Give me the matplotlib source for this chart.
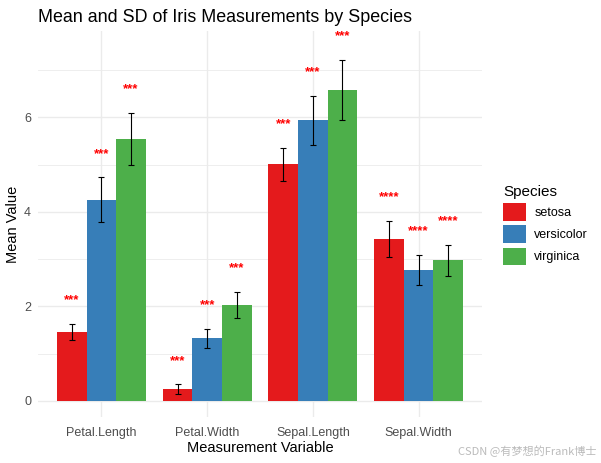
import matplotlib
matplotlib.use("Agg")
import matplotlib.pyplot as plt
import numpy as np
from matplotlib.patches import Patch

plt.rcParams['font.family'] = ['Liberation Sans', 'DejaVu Sans']

variables = ["Petal.Length", "Petal.Width", "Sepal.Length", "Sepal.Width"]
species = ["setosa", "versicolor", "virginica"]
colors = ["#E41A1C", "#377EB8", "#4DAF4A"]
means = {
    "setosa":     [1.462, 0.246, 5.006, 3.428],
    "versicolor": [4.260, 1.326, 5.936, 2.770],
    "virginica":  [5.552, 2.026, 6.588, 2.974],
}
sds = {
    "setosa":     [0.174, 0.105, 0.352, 0.379],
    "versicolor": [0.470, 0.198, 0.516, 0.314],
    "virginica":  [0.552, 0.275, 0.636, 0.322],
}
sig_labels = ["***", "***", "***", "****"]
star_offset = 0.5

W, H = 601, 463
fig = plt.figure(figsize=(W / 100, H / 100), dpi=100)
ax = fig.add_axes([38 / W, 1 - 417 / H, (482 - 38) / W, (417 - 31) / H])

x = np.arange(1, len(variables) + 1)
bw = 0.28
for i, sp in enumerate(species):
    xs = x + (i - 1) * bw
    m = np.array(means[sp]); s = np.array(sds[sp])
    ax.bar(xs, m, width=bw, color=colors[i], zorder=2, label=sp)
    ax.errorbar(xs, m, yerr=s, fmt='none', ecolor='black', elinewidth=0.8,
                capsize=2.5, capthick=0.8, zorder=3)
    for xi, yi, lab in zip(xs, m + s + star_offset, sig_labels):
        ax.text(xi, yi, lab, color='red', ha='center', va='center',
                fontsize=9.5, fontweight='bold', zorder=4)

ax.set_xlim(0.4, 4.6)
ax.set_ylim(-0.34, 7.83)
ax.set_xticks(x)
ax.set_xticklabels(variables)
ax.set_yticks([0, 2, 4, 6])
ax.set_yticks([1, 3, 5, 7], minor=True)
ax.tick_params(axis='both', which='both', length=0, labelsize=9, labelcolor='#4D4D4D')
ax.tick_params(axis='x', pad=7)
ax.tick_params(axis='y', pad=5)
ax.grid(True, which='major', color='#EBEBEB', linewidth=1.0, zorder=0)
ax.grid(True, which='minor', axis='y', color='#EBEBEB', linewidth=0.6, zorder=0)
ax.set_axisbelow(True)
for sp_ in ax.spines.values():
    sp_.set_visible(False)

ax.set_xlabel("Measurement Variable", fontsize=10.5, labelpad=2)
ax.set_ylabel("Mean Value", fontsize=10.5, labelpad=3)
fig.text(38 / W, 1 - 17 / H, "Mean and SD of Iris Measurements by Species",
         fontsize=12.9, ha='left', va='center')

handles = [Patch(facecolor=c, edgecolor='none') for c in colors]
leg = ax.legend(handles, species, title="Species", loc='upper left',
                bbox_to_anchor=(498 / W, 1 - 180 / H), bbox_transform=fig.transFigure,
                frameon=False, fontsize=9, title_fontsize=11,
                handlelength=1.8, handleheight=1.8, labelspacing=0.35,
                handletextpad=0.7, borderaxespad=0)
leg._legend_box.align = "left"

fig.text(597 / W, 1 - 451 / H, "CSDN @有梦想的Frank博士", ha='right', va='center',
         fontsize=8, color='#BBBBBB',
         family=['Noto Sans CJK SC', 'DejaVu Sans'])

fig.savefig("out.png", dpi=100)
